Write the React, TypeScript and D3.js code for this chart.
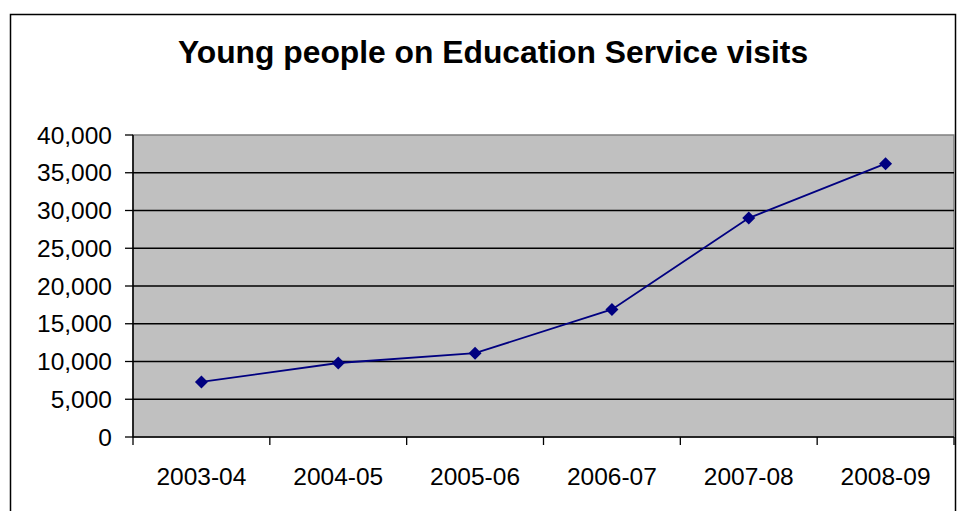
import React from "react";
import * as d3 from "d3";

const categories = ["2003-04", "2004-05", "2005-06", "2006-07", "2007-08", "2008-09"];
const visits = [7300, 9800, 11100, 16900, 29000, 36200];
const yTicks = [0, 5000, 10000, 15000, 20000, 25000, 30000, 35000, 40000];
const title = "Young people on Education Service visits";

export default function App() {
  const W = 958, H = 511;
  const left = 133, right = 954, top = 135, bottom = 437;
  const x = d3.scaleBand<string>().domain(categories).range([left, right]);
  const y = d3.scaleLinear().domain([0, 40000]).range([bottom, top]);
  const fmt = d3.format(",");
  const line = d3.line<number>()
    .x((_, i) => (x(categories[i]) as number) + x.bandwidth() / 2)
    .y((d) => y(d));
  const font = "'Liberation Sans', Arial, sans-serif";
  const bandEdges = categories.map((c) => x(c) as number).concat([right]);
  return (
    <svg width={W} height={H} style={{ position: "absolute", left: 0, top: 0, background: "#fff" }}>
      <rect x={10.5} y={14.5} width={945} height={510} fill="#fff" stroke="#000" strokeWidth={1.5} />
      <text x={493} y={63} textAnchor="middle" fontFamily={font} fontWeight="bold" fontSize={31.8}>{title}</text>
      <rect x={left} y={top} width={right - left} height={bottom - top} fill="#c0c0c0" stroke="#808080" strokeWidth={1.5} />
      {yTicks.filter((t) => t > 0 && t < 40000).map((t) => (
        <line key={t} x1={left} x2={right} y1={y(t)} y2={y(t)} stroke="#000" strokeWidth={1.3} />
      ))}
      <line x1={left} x2={left} y1={top} y2={bottom} stroke="#000" strokeWidth={1.5} />
      <line x1={left} x2={right} y1={bottom} y2={bottom} stroke="#000" strokeWidth={1.5} />
      {yTicks.map((t) => (
        <g key={t}>
          <line x1={left - 8} x2={left} y1={y(t)} y2={y(t)} stroke="#000" strokeWidth={1.3} />
          <text x={112} y={y(t)} dy="0.35em" textAnchor="end" fontFamily={font} fontSize={24.5}>{fmt(t)}</text>
        </g>
      ))}
      {bandEdges.map((e, i) => (
        <line key={i} x1={e} x2={e} y1={bottom} y2={bottom + 8} stroke="#000" strokeWidth={1.3} />
      ))}
      {categories.map((c) => (
        <text key={c} x={(x(c) as number) + x.bandwidth() / 2} y={485} textAnchor="middle" fontFamily={font} fontSize={24.5}>{c}</text>
      ))}
      <path d={line(visits) || ""} fill="none" stroke="#000080" strokeWidth={1.8} />
      {visits.map((v, i) => {
        const cx = (x(categories[i]) as number) + x.bandwidth() / 2;
        const cy = y(v);
        const s = 6.5;
        return <path key={i} d={`M${cx},${cy - s}L${cx + s},${cy}L${cx},${cy + s}L${cx - s},${cy}Z`} fill="#000080" />;
      })}
    </svg>
  );
}
